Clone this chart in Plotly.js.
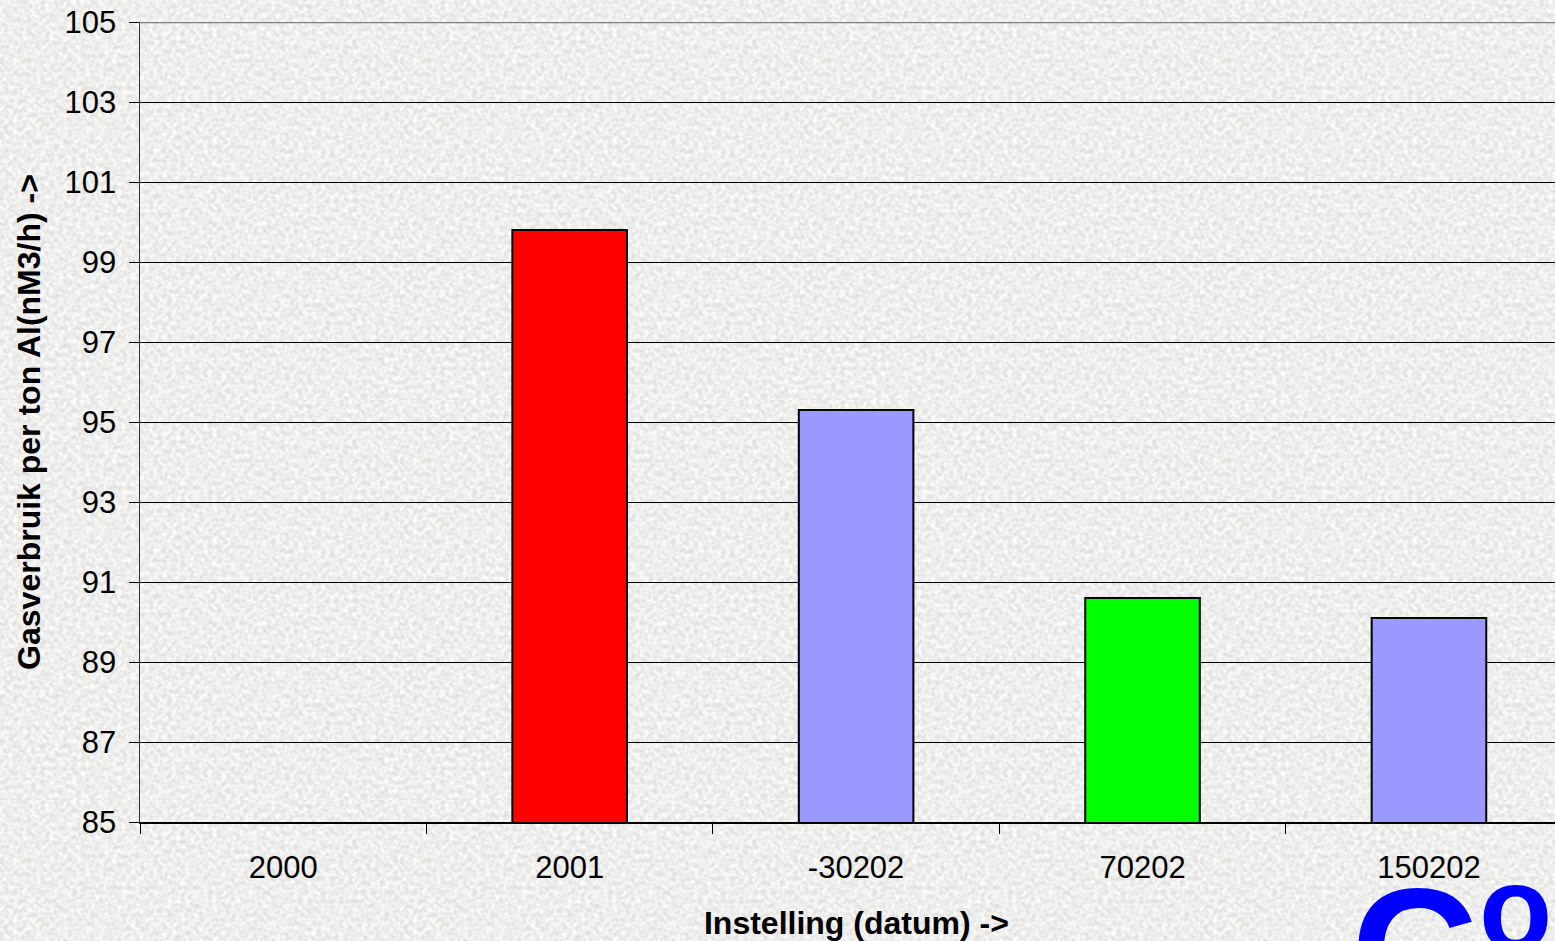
<!DOCTYPE html>
<html>
<head>
<meta charset="utf-8">
<script src="https://cdn.plot.ly/plotly-3.0.1.min.js"></script>
<style>
  html, body { margin: 0; padding: 0; }
  body {
    width: 1555px; height: 941px; overflow: hidden;
    background-color: #e0e0dd;
    background-image: url("data:image/svg+xml;utf8,<svg xmlns='http://www.w3.org/2000/svg' width='400' height='400'><filter id='n'><feTurbulence type='fractalNoise' baseFrequency='0.22' numOctaves='3' seed='7' stitchTiles='stitch'/><feColorMatrix type='matrix' values='0 0 0 0 1  0 0 0 0 1  0 0 0 0 1  1.7 0 0 0 -0.4'/></filter><rect width='400' height='400' filter='url(%23n)'/></svg>");
  }
  #chart { width: 1555px; height: 941px; }
</style>
</head>
<body>
<div id="chart"></div>
<script>
// Gas consumption per ton of aluminium, per setting date
const categories = ['2000', '2001', '-30202', '70202', '150202'];
const gasUse = [null, 99.8, 95.3, 90.6, 90.1];
const barColors = ['#9999ff', '#ff0000', '#9999ff', '#00ff00', '#9999ff'];
const yTickValues = [85, 87, 89, 91, 93, 95, 97, 99, 101, 103, 105];

const font = 'Arial, "Liberation Sans", sans-serif';

const trace = {
  type: 'bar',
  x: categories,
  y: gasUse,
  width: 0.4,
  marker: { color: barColors, line: { color: '#000000', width: 2 } },
  hoverinfo: 'x+y'
};

const layout = {
  width: 1555,
  height: 941,
  margin: { l: 140, r: 0, t: 22, b: 119 },
  paper_bgcolor: 'rgba(0,0,0,0)',
  plot_bgcolor: 'rgba(0,0,0,0)',
  showlegend: false,
  font: { family: font, color: '#000000' },
  xaxis: {
    type: 'category',
    categoryorder: 'array',
    categoryarray: categories,
    range: [-0.5, 4.44],
    tickson: 'boundaries',
    ticks: 'outside',
    ticklen: 10,
    tickwidth: 1,
    tickcolor: '#000000',
    showline: true,
    linecolor: '#000000',
    linewidth: 1.5,
    showgrid: false,
    tickfont: { family: font, size: 31, color: '#000000' },
    ticklabelstandoff: 17,
    title: { text: '<b>&#160;&#160;Instelling (datum) -></b>', font: { family: font, size: 32, color: '#000000' }, standoff: 28 },
    automargin: false,
    fixedrange: true
  },
  yaxis: {
    range: [85, 105],
    tickvals: yTickValues,
    ticktext: yTickValues.map(String),
    ticks: 'outside',
    ticklen: 10,
    tickwidth: 1,
    tickcolor: '#000000',
    showline: true,
    linecolor: '#333333',
    linewidth: 1.5,
    showgrid: true,
    gridcolor: '#000000',
    gridwidth: 1,
    zeroline: false,
    tickfont: { family: font, size: 31, color: '#000000' },
    ticklabelstandoff: 6,
    title: { text: '<b>Gasverbruik per ton Al(nM3/h) -></b>', font: { family: font, size: 32, color: '#000000' }, standoff: 14 },
    automargin: false,
    fixedrange: true
  },
  shapes: [
    { type: 'line', xref: 'paper', yref: 'y', x0: 0, x1: 1, y0: 105, y1: 105,
      line: { color: '#7f7f7f', width: 2.5 } }
  ],
  annotations: [
    // logo lettering in the lower right corner
    { text: '<b>C</b>', xref: 'paper', yref: 'paper', x: 0.8545, y: -0.035,
      xanchor: 'left', yanchor: 'top', showarrow: false,
      font: { family: font, size: 176, color: '#0000ff' } },
    { text: '<b>o</b>', xref: 'paper', yref: 'paper', x: 0.9449, y: -0.021,
      xanchor: 'left', yanchor: 'top', showarrow: false,
      font: { family: font, size: 120, color: '#0000ff' } }
  ]
};

Plotly.newPlot('chart', [trace], layout, { displayModeBar: false, staticPlot: true });
</script>
</body>
</html>
